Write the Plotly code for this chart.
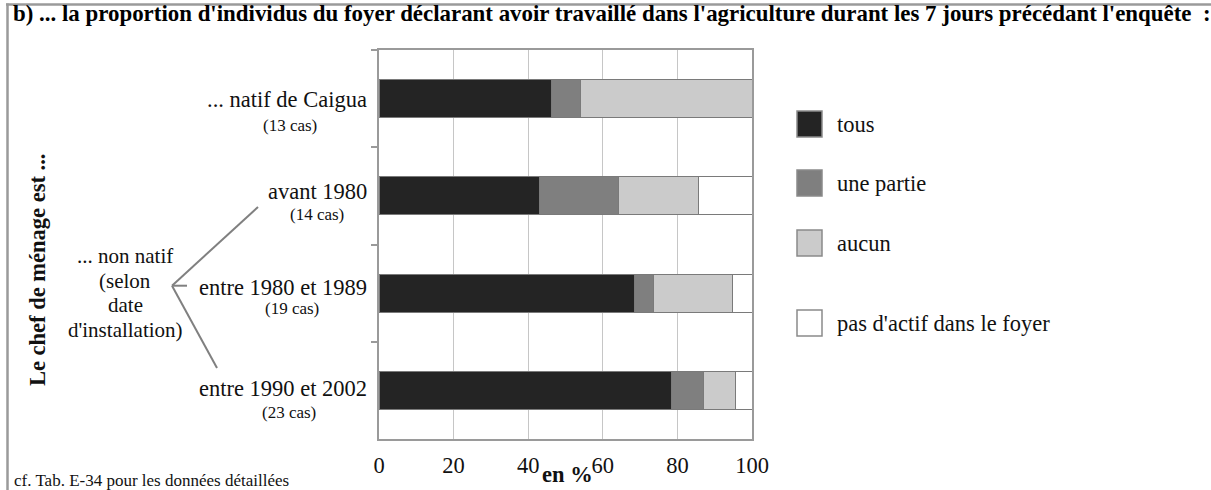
import plotly.graph_objects as go

# ---- data ----
categories = ["... natif de Caigua", "avant 1980", "entre 1980 et 1989", "entre 1990 et 2002"]
case_counts = ["(13 cas)", "(14 cas)", "(19 cas)", "(23 cas)"]
series_names = ["tous", "une partie", "aucun", "pas d'actif dans le foyer"]
tous = [46.2, 42.9, 68.4, 78.3]
une_partie = [7.7, 21.4, 5.3, 8.7]
aucun = [46.1, 21.4, 21.1, 8.7]
pas_actif = [0.0, 14.3, 5.2, 4.3]
x_ticks = [0, 20, 40, 60, 80, 100]
group_label_lines = ["... non natif", "(selon", "date", "d'installation)"]

colors = ["#242424", "#7f7f7f", "#cbcbcb", "#ffffff"]
SERIF = "Liberation Serif, Times New Roman, serif"
FS = 22.5

W, H = 1211, 490
L, R, T, B = 379, 752, 50, 439


def px(x):
    return (x - L) / (R - L)


def py(y):
    return (B - y) / (B - T)


fig = go.Figure()
for name, vals, col in zip(series_names, [tous, une_partie, aucun, pas_actif], colors):
    fig.add_trace(go.Bar(
        y=categories, x=vals, name=name, orientation="h",
        marker=dict(color=col, line=dict(color="#7a7a7a", width=1)),
        width=0.39, showlegend=False, hoverinfo="skip",
    ))

shapes = []
annotations = []

# frame
shapes.append(dict(type="line", xref="paper", yref="paper", x0=px(6), x1=px(1211), y0=py(4.5), y1=py(4.5),
                   line=dict(color="#9a9a9a", width=2.5)))
shapes.append(dict(type="line", xref="paper", yref="paper", x0=px(7.5), x1=px(7.5), y0=py(3.5), y1=py(490),
                   line=dict(color="#9a9a9a", width=2.5)))

# title
annotations.append(dict(
    text="<b>b) ... la proportion d'individus du foyer déclarant avoir travaillé dans l'agriculture durant les 7 jours précédant l'enquête  :</b>",
    xref="paper", yref="paper", x=px(11), y=py(14), xanchor="left", yanchor="middle",
    showarrow=False, font=dict(family=SERIF, size=22.9, color="#000")))

# category labels
main_shift = [-1, 4, 6, 2]
sub_shift = [-27, -19, -15, -22]
sub_center = [290, 317, 292, 289]
for i, (cat, cnt) in enumerate(zip(categories, case_counts)):
    annotations.append(dict(text=cat, xref="paper", yref="y", x=px(369), y=cat, yshift=main_shift[i],
                            xanchor="right", yanchor="middle", showarrow=False,
                            font=dict(family=SERIF, size=FS, color="#111")))
    annotations.append(dict(text=cnt, xref="paper", yref="y", x=px(sub_center[i]), y=cat, yshift=sub_shift[i],
                            xanchor="center", yanchor="middle", showarrow=False,
                            font=dict(family=SERIF, size=17, color="#111")))

# non natif group label (one annotation per line for tight spacing)
for line_txt, ly in zip(group_label_lines, [256, 280.5, 305, 329.5]):
    annotations.append(dict(text=line_txt, xref="paper", yref="paper",
                            x=px(125), y=py(ly), xanchor="center", yanchor="middle",
                            showarrow=False, font=dict(family=SERIF, size=21, color="#111")))
# bracket
bx, by = 172, 285.7
for (ex, ey) in [(258, 207), (187, 285.7), (217, 368)]:
    shapes.append(dict(type="line", xref="paper", yref="paper", x0=px(bx), y0=py(by), x1=px(ex), y1=py(ey),
                       line=dict(color="#808080", width=2)))

# y axis title
annotations.append(dict(text="<b>Le chef de ménage est ...</b>", xref="paper", yref="paper",
                        x=px(37), y=py(270), textangle=-90, xanchor="center", yanchor="middle",
                        showarrow=False, font=dict(family=SERIF, size=FS, color="#111")))

# x axis title
annotations.append(dict(text="<b>en %</b>", xref="paper", yref="paper", x=px(567), y=py(474),
                        xanchor="center", yanchor="middle", showarrow=False,
                        font=dict(family=SERIF, size=FS, color="#111")))

# footnote
annotations.append(dict(text="cf. Tab. E-34 pour les données détaillées", xref="paper", yref="paper",
                        x=px(12), y=py(480), xanchor="left", yanchor="middle", showarrow=False,
                        font=dict(family=SERIF, size=17, color="#111")))

# custom legend
leg_y = [124, 183, 243, 323]
for name, col, ly in zip(series_names, colors, leg_y):
    shapes.append(dict(type="rect", xref="paper", yref="paper", x0=px(797), x1=px(822),
                       y0=py(ly - 13), y1=py(ly + 13), fillcolor=col,
                       line=dict(color="#8a8a8a", width=1.5)))
    annotations.append(dict(text=name, xref="paper", yref="paper", x=px(835), y=py(ly),
                            xanchor="left", yanchor="middle", showarrow=False,
                            font=dict(family=SERIF, size=FS, color="#111")))

fig.update_layout(
    width=W, height=H, barmode="stack",
    margin=dict(l=L, r=W - R, t=T, b=H - B, pad=0),
    paper_bgcolor="white", plot_bgcolor="white",
    shapes=shapes, annotations=annotations, showlegend=False,
    xaxis=dict(range=[0, 100], tickvals=x_ticks, ticktext=[str(v) for v in x_ticks],
               automargin=False,
               showgrid=True, gridcolor="#c6c6c6", gridwidth=1, zeroline=False,
               showline=True, mirror=True, linecolor="#9a9a9a", linewidth=2,
               ticks="", ticklabelstandoff=5,
               tickfont=dict(family=SERIF, size=FS, color="#111")),
    yaxis=dict(categoryorder="array", categoryarray=categories, autorange="reversed",
               automargin=False,
               showticklabels=False, tickson="boundaries", ticks="outside", ticklen=6,
               tickcolor="#9a9a9a", tickwidth=1.5, showgrid=False, zeroline=False,
               showline=True, mirror=True, linecolor="#9a9a9a", linewidth=2),
)

fig.write_html("out.html", config={"displayModeBar": False},
               post_script="document.body.style.margin='0';document.body.style.overflow='hidden';")
